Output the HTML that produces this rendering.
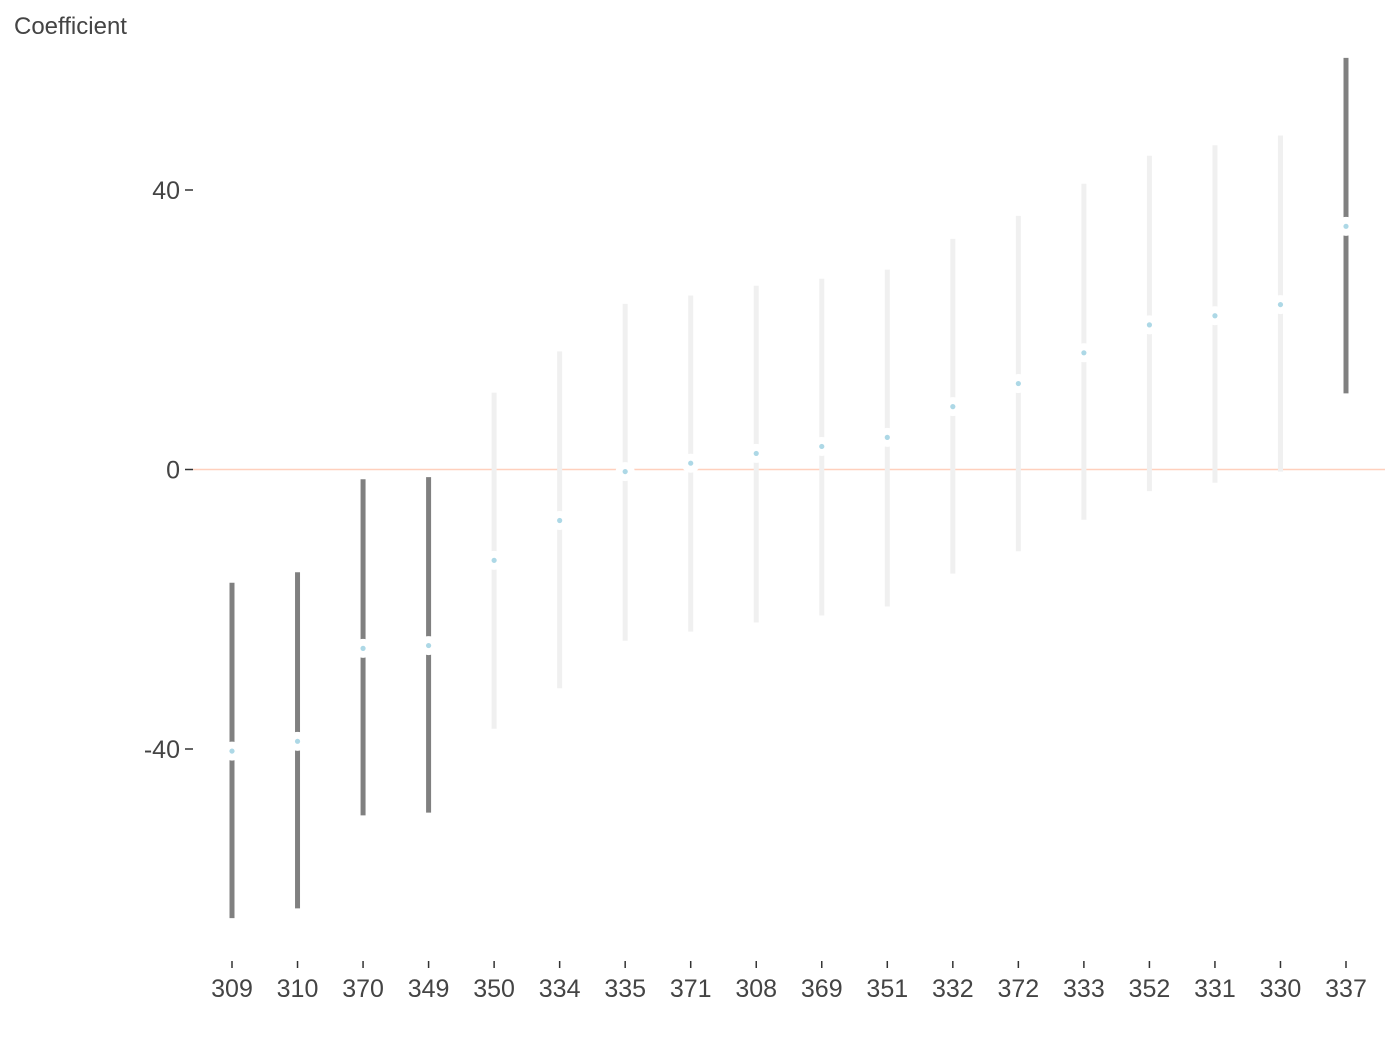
<!DOCTYPE html>
<html><head><meta charset="utf-8"><style>
body{margin:0;background:#fff;}
svg{display:block;font-family:"Liberation Sans",sans-serif;}
</style></head><body>
<svg id="chart" width="1400" height="1050">
<text x="14" y="34" font-size="24" fill="#444">Coefficient</text>
</svg>
<script>
const categories=["309","310","370","349","350","334","335","371","308","369","351","332","372","333","352","331","330","337"];
const estimates=[-40.3,-38.9,-25.6,-25.2,-13.0,-7.3,-0.3,0.9,2.3,3.3,4.6,9.0,12.3,16.7,20.7,22.0,23.6,34.8];
const lower=[-64.2,-62.8,-49.5,-49.1,-37.1,-31.3,-24.5,-23.2,-21.9,-20.9,-19.6,-14.9,-11.7,-7.2,-3.1,-1.9,-0.3,10.9];
const upper=[-16.2,-14.7,-1.4,-1.1,11.0,16.9,23.7,24.9,26.3,27.3,28.6,33.0,36.3,40.9,44.9,46.4,47.8,58.9];
const yTicks=[40,0,-40];
const yTickLabels=["40","0","-40"];

const NS="http://www.w3.org/2000/svg";
const svg=document.getElementById('chart');
const y=v=>469.5-v*(279.5/40);
const x=i=>232+i*(1346-232)/(categories.length-1);
function mk(t,a){const e=document.createElementNS(NS,t);for(const k in a)e.setAttribute(k,a[k]);svg.appendChild(e);return e;}

yTicks.forEach((t,i)=>{
  const tk=mk('line',{x1:185,x2:193,y1:y(t),y2:y(t),stroke:'#333','stroke-width':1.5});
  
  
  const lb=mk('text',{x:180,y:y(t)+9,'text-anchor':'end','font-size':25,fill:'#444'});
  lb.textContent=yTickLabels[i];
  
  
});
const zl=mk('line',{x1:193,x2:1385,y1:y(0),y2:y(0),stroke:'#ffd0bd','stroke-width':1.5});



categories.forEach((c,i)=>{
  const sig=lower[i]>0||upper[i]<0;
  const ln=mk('line',{x1:x(i),x2:x(i),y1:y(lower[i]),y2:y(upper[i]),stroke:sig?'#808080':'#f0f0f0','stroke-width':5});
  
  
  const ring=mk('circle',{cx:x(i),cy:y(estimates[i]),r:9.5,fill:'#fff'});
  
  
  const pt=mk('circle',{cx:x(i),cy:y(estimates[i]),r:2.6,fill:'#add8e6'});
  
  
  const tk=mk('line',{x1:x(i),x2:x(i),y1:961,y2:968,stroke:'#333','stroke-width':1.5});
  
  
  const lb=mk('text',{x:x(i),y:997,'text-anchor':'middle','font-size':25,fill:'#444'});
  lb.textContent=c;
  
  
});
</script>
</body></html>
